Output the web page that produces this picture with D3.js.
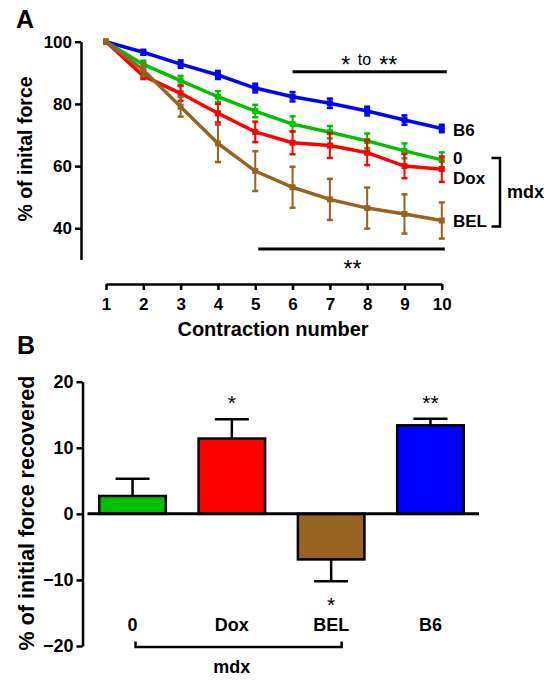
<!DOCTYPE html>
<html><head><meta charset="utf-8">
<script src="https://cdn.jsdelivr.net/npm/d3@7"></script>
<style>body{margin:0;background:#fff}svg{display:block}text{font-family:"Liberation Sans",Arial,sans-serif}</style>
</head><body>
<script>
// ---------- Data ----------
const contractions = [1,2,3,4,5,6,7,8,9,10];
const b6Mean  = [100,96.6,92.8,89.3,85.1,82.3,80.2,77.7,74.8,72.1];
const b6Err   = [0.3,0.8,1.2,1.3,1.4,1.5,1.5,1.4,1.5,1.2];
const zeroMean= [100,92.7,87.5,82.3,77.7,73.5,70.9,68.1,64.9,62.0];
const zeroErr = [0.3,1.2,1.5,1.8,2.0,2.5,2.0,2.4,2.4,2.4];
const doxMean = [100,89.0,83.4,77.0,71.0,67.5,66.6,64.3,60.0,59.0];
const doxErr  = [0.3,1.0,2.4,3.0,3.3,3.7,4.0,4.0,3.9,4.1];
const belMean = [100,90.9,79.1,67.3,58.4,53.2,49.3,46.5,44.6,42.5];
const belErr  = [0.3,2.0,3.2,6.0,6.4,6.6,6.6,6.6,6.3,5.8];
const seriesNames = ["B6","0","Dox","BEL"];
const yTicksA = [40,60,80,100];

const groups = ["0","Dox","BEL","B6"];
const recovered = [2.7,11.4,-6.9,13.4];
const recoveredErr = [2.6,2.9,3.3,1.0];
const sigB = ["","*","*","**"];
const yTicksB = [-20,-10,0,10,20];

const colors = {"B6":"#0000ff","0":"#00c000","Dox":"#ff0000","BEL":"#966420"};

const W=544,H=684;
const svg=d3.select("body").append("svg").attr("width",W).attr("height",H);
const font='"Liberation Sans",Arial,sans-serif';

// ---------- Panel A ----------
const xA=d3.scaleLinear().domain([1,10]).range([106,441.8]);
const yA=d3.scaleLinear().domain([30,100]).range([259.4,41.7]);

svg.append("text").attr("x",16).attr("y",28.3).attr("font-size",25).attr("font-weight","bold").text("A");

const axYA=svg.append("g").attr("transform","translate(81,0)")
  .call(d3.axisLeft(yA).tickValues(yTicksA).tickSize(6).tickSizeOuter(0).tickPadding(3));
const axXA=svg.append("g").attr("transform","translate(0,284)")
  .call(d3.axisBottom(xA).tickValues(contractions).tickSize(6).tickSizeOuter(0).tickPadding(8).tickFormat(d3.format("d")));
[axYA,axXA].forEach(g=>{
  g.selectAll("path,line").attr("stroke","#000").attr("stroke-width",2.5);
  g.selectAll("text").attr("font-size",17).attr("font-weight","bold").attr("fill","#000").style("font-family",font);
});

svg.append("text").attr("transform","translate(32,149) rotate(-90)").attr("text-anchor","middle")
  .attr("font-size",19.5).attr("font-weight","bold").text("% of inital force");
svg.append("text").attr("x",273).attr("y",336).attr("text-anchor","middle")
  .attr("font-size",20).attr("font-weight","bold").text("Contraction number");

const seriesData=[
  {name:"B6",mean:b6Mean,err:b6Err},
  {name:"0",mean:zeroMean,err:zeroErr},
  {name:"Dox",mean:doxMean,err:doxErr},
  {name:"BEL",mean:belMean,err:belErr}
];
const line=d3.line().x((d,i)=>xA(contractions[i])).y(d=>yA(d));
seriesData.forEach(s=>{
  const c=colors[s.name];
  const g=svg.append("g");
  const pts=s.mean.map((m,i)=>({x:contractions[i],m,e:s.err[i]}));
  g.selectAll("line.eb").data(pts).join("line")
    .attr("x1",d=>xA(d.x)).attr("x2",d=>xA(d.x))
    .attr("y1",d=>yA(d.m+d.e)).attr("y2",d=>yA(d.m-d.e))
    .attr("stroke",c).attr("stroke-width",2);
  ["+","-"].forEach(sg=>{
    g.selectAll(null).data(pts).join("line")
      .attr("x1",d=>xA(d.x)-3).attr("x2",d=>xA(d.x)+3)
      .attr("y1",d=>yA(sg==="+"?d.m+d.e:d.m-d.e)).attr("y2",d=>yA(sg==="+"?d.m+d.e:d.m-d.e))
      .attr("stroke",c).attr("stroke-width",2.5);
  });
  g.append("path").datum(s.mean).attr("d",line).attr("fill","none").attr("stroke",c).attr("stroke-width",3.5);
  g.selectAll("rect").data(pts).join("rect")
    .attr("x",d=>xA(d.x)-3).attr("y",d=>yA(d.m)-3).attr("width",6).attr("height",6).attr("fill",c);
});

// series labels
const labelY={"B6":136,"0":163.5,"Dox":184,"BEL":227.3};
seriesNames.forEach(n=>{
  svg.append("text").attr("x",453).attr("y",labelY[n]).attr("font-size",17).attr("font-weight","bold").text(n);
});
svg.append("path").attr("d","M491.5,158H500V226.5H491.5").attr("fill","none").attr("stroke","#000").attr("stroke-width",2.5);
svg.append("text").attr("x",507).attr("y",198.3).attr("font-size",18).attr("font-weight","bold").text("mdx");

// significance bars
svg.append("line").attr("x1",xA(6)).attr("x2",xA(10)+5).attr("y1",71.7).attr("y2",71.7).attr("stroke","#000").attr("stroke-width",3);
svg.append("text").attr("x",345.8).attr("y",73.2).attr("text-anchor","middle").attr("font-size",23).text("*");
svg.append("text").attr("x",364.5).attr("y",65).attr("text-anchor","middle").attr("font-size",16).text("to");
svg.append("text").attr("x",388.3).attr("y",73.2).attr("text-anchor","middle").attr("font-size",23).text("**");
svg.append("line").attr("x1",xA(5)+3).attr("x2",xA(10)+3).attr("y1",249).attr("y2",249).attr("stroke","#000").attr("stroke-width",3);
svg.append("text").attr("x",352.5).attr("y",277.2).attr("text-anchor","middle").attr("font-size",23).text("**");

// ---------- Panel B ----------
svg.append("text").attr("x",17).attr("y",353.5).attr("font-size",25).attr("font-weight","bold").text("B");

const xB=d3.scaleBand().domain(groups).range([83,480]).paddingInner(0.33).paddingOuter(0.164);
const yB=d3.scaleLinear().domain([-20,20]).range([646,381.7]);

const axYB=svg.append("g").attr("transform","translate(82.5,0)")
  .call(d3.axisLeft(yB).tickValues(yTicksB).tickSize(6).tickSizeOuter(0).tickPadding(3));
axYB.selectAll("path,line").attr("stroke","#000").attr("stroke-width",2.5);
axYB.selectAll("text").attr("font-size",18).attr("font-weight","bold").attr("fill","#000").style("font-family",font);

svg.append("text").attr("transform","translate(34,513) rotate(-90)").attr("text-anchor","middle")
  .attr("font-size",21.5).attr("font-weight","bold").text("% of initial force recovered");

const barData=groups.map((g,i)=>({g,v:recovered[i],e:recoveredErr[i],s:sigB[i]}));
const cx=d=>xB(d.g)+xB.bandwidth()/2;
const errEnd=d=>yB(d.v+(d.v>=0?d.e:-d.e));
svg.selectAll("line.ebB").data(barData).join("line")
  .attr("x1",cx).attr("x2",cx).attr("y1",d=>yB(d.v)).attr("y2",errEnd)
  .attr("stroke","#000").attr("stroke-width",2.5);
svg.selectAll("line.capB").data(barData).join("line")
  .attr("x1",d=>cx(d)-17).attr("x2",d=>cx(d)+17).attr("y1",errEnd).attr("y2",errEnd)
  .attr("stroke","#000").attr("stroke-width",2.5);
svg.selectAll("rect.bar").data(barData).join("rect")
  .attr("x",d=>xB(d.g)).attr("width",xB.bandwidth())
  .attr("y",d=>yB(Math.max(0,d.v))).attr("height",d=>Math.abs(yB(d.v)-yB(0)))
  .attr("fill",d=>colors[d.g]).attr("stroke","#000").attr("stroke-width",2.5);
svg.append("line").attr("x1",87.5).attr("x2",479).attr("y1",yB(0)).attr("y2",yB(0)).attr("stroke","#000").attr("stroke-width",3);
// stars
svg.selectAll("text.star").data(barData.filter(d=>d.s)).join("text")
  .attr("x",cx)
  .attr("y",d=>d.v>=0?errEnd(d)-9:errEnd(d)+31)
  .attr("text-anchor","middle").attr("font-size",21).text(d=>d.s);
// category labels
svg.selectAll("text.cat").data(barData).join("text")
  .attr("x",cx).attr("y",630.5)
  .attr("text-anchor","middle").attr("font-size",18).attr("font-weight","bold").text(d=>d.g);
// mdx bracket
svg.append("path").attr("d",`M${cx(barData[0])+3},641.5V647H${cx(barData[2])+10.5}V641.5`)
  .attr("fill","none").attr("stroke","#000").attr("stroke-width",2.5);
svg.append("text").attr("x",cx(barData[1])).attr("y",672.5).attr("text-anchor","middle")
  .attr("font-size",18).attr("font-weight","bold").text("mdx");
</script>
</body></html>
